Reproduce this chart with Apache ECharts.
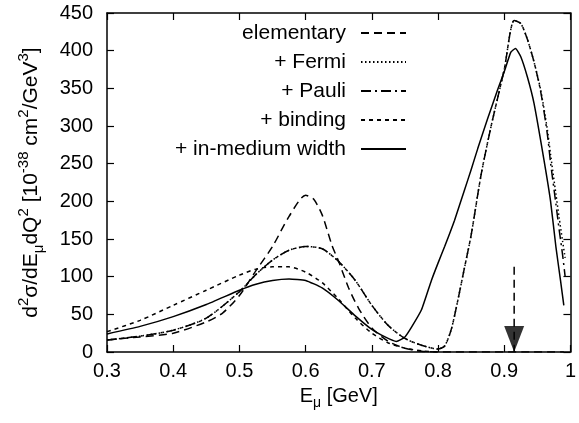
<!DOCTYPE html>
<html><head><meta charset="utf-8">
<script src="https://cdn.jsdelivr.net/npm/echarts@6/dist/echarts.min.js"></script>
<style>html,body{margin:0;padding:0;background:#fff}#c{width:579px;height:423px}</style>
</head><body><div id="c"></div>
<script>
// Series names (legend)
const names = ['elementary', '+ Fermi', '+ Pauli', '+ binding', '+ in-medium width'];
// axis ticks
const xTicks = {min: 0.3, max: 1.0, step: 0.1};
const yTicks = {min: 0, max: 450, step: 50};

// elementary (dashed)
const elemX = [0.30,0.35,0.40,0.45,0.475,0.50,0.525,0.55,0.575,0.60,0.612,0.625,0.64,0.65,0.665,0.68,0.70,0.725,0.75,0.775,0.80,0.99];
const elemY = [16,20,25,40,52,75,108,140,180,208,203,182,141,120,85,58,32,14,5,1,0,0];
// elementary quasielastic delta peak (arrow)
const arrowX = [0.915,0.915];
const arrowY = [113,0];

// + Pauli (dash-dot)
const pauliX = [0.30,0.35,0.40,0.45,0.50,0.525,0.55,0.575,0.60,0.625,0.65,0.675,0.70,0.725,0.75,0.775,0.80,0.81,0.82,0.83,0.84,0.85,0.865,0.88,0.90,0.915,0.925,0.935,0.945,0.955,0.965,0.97,0.978,0.983,0.988,0.992];
const pauliY = [16,21,29,45,80,103,122,135,140,137,120,95,62,35,18,9,4,8,30,69,112,155,235,299,375,440,436,415,385,346,290,251,197,162,130,100];

// + Fermi (dotted)
const fermiX = [0.30,0.35,0.40,0.45,0.50,0.525,0.55,0.575,0.60,0.625,0.65,0.675,0.70,0.725,0.75,0.775,0.80,0.81,0.82,0.83,0.84,0.85,0.865,0.88,0.90,0.915,0.925,0.935,0.945,0.955,0.965,0.97,0.978,0.983,0.988,0.992];
const fermiY = [16,21,29,45,80,103,122,135,140,137,120,95,62,35,18,9,4,8,30,69,112,155,235,299,375,440,436,415,385,348,296,262,210,178,148,125];

// + binding (short dashes)
const bindX = [0.30,0.35,0.40,0.45,0.50,0.525,0.55,0.575,0.60,0.625,0.65,0.675,0.70,0.725,0.75,0.775,0.80];
const bindY = [27,42,62,82,102,110,113,113,106,92,70,45,25,12,5,1.5,0];

// + in-medium width (solid)
const medX = [0.30,0.35,0.40,0.45,0.50,0.525,0.55,0.575,0.60,0.625,0.65,0.675,0.70,0.72,0.737,0.75,0.76,0.775,0.79,0.80,0.81,0.825,0.84,0.85,0.86,0.875,0.89,0.90,0.91,0.917,0.925,0.935,0.945,0.96,0.97,0.978,0.985,0.99];
const medY = [24,34,47,63,82,90,95,97,95,85,68,48,30,20,14,20,33,56,95,118,140,175,215,242,270,310,348,372,398,403,392,365,330,255,200,140,95,62];

const zip = (xs, ys) => xs.map((x, i) => [x, ys[i]]);
const FONT = 'Liberation Sans, Arial, sans-serif';

function lineSeries(name, xs, ys, type, extra) {
  return Object.assign({
    name: name, type: 'line', data: zip(xs, ys), showSymbol: false, symbol: 'none',
    smooth: 0.25, clip: true,
    lineStyle: {color: '#000', width: 1.5, type: type},
    itemStyle: {color: '#000'}, z: 3
  }, extra || {});
}

const chart = echarts.init(document.getElementById('c'), null, {renderer: 'canvas'});
const axisCommon = {
  axisLine: {show: true, onZero: false, lineStyle: {color: '#000', width: 1.5}},
  axisTick: {show: true, inside: true, length: 7, lineStyle: {color: '#000', width: 1.2}},
  splitLine: {show: false}
};
chart.setOption({
  animation: false,
  backgroundColor: '#fff',
  grid: {left: 107, right: 6, top: 13, bottom: 71, containLabel: false},
  legend: {
    data: names, orient: 'vertical', align: 'right',
    right: 172, top: 22, padding: 0,
    itemWidth: 45, itemHeight: 14, itemGap: 7,
    itemStyle: {opacity: 0},
    textStyle: {fontFamily: FONT, fontSize: 21, color: '#000', padding: [0, 10, 0, 0], lineHeight: 22},
    inactiveColor: '#000', selectedMode: false
  },
  xAxis: [
    Object.assign({}, axisCommon, {
      type: 'value', min: xTicks.min, max: xTicks.max, interval: xTicks.step, position: 'bottom',
      axisLabel: {color: '#000', fontFamily: FONT, fontSize: 20, margin: 9},
      name: '{a|E}{s|μ}{a| [GeV]}', nameLocation: 'middle', nameGap: 30,
      nameTextStyle: {rich: {
        a: {fontFamily: FONT, fontSize: 20, color: '#000', lineHeight: 28, verticalAlign: 'middle'},
        s: {fontFamily: FONT, fontSize: 14, color: '#000', lineHeight: 14, verticalAlign: 'bottom'}
      }}
    }),
    Object.assign({}, axisCommon, {
      type: 'value', min: xTicks.min, max: xTicks.max, interval: xTicks.step, position: 'top',
      axisLabel: {show: false}
    })
  ],
  yAxis: [
    Object.assign({}, axisCommon, {
      type: 'value', min: yTicks.min, max: yTicks.max, interval: yTicks.step, position: 'left',
      axisLabel: {color: '#000', fontFamily: FONT, fontSize: 20, margin: 14},
      name: '{a|d}{p|2}{a|σ/dE}{s|μ}{a|dQ}{p|2}{a| [10}{p|-38}{a| cm}{p|2}{a|/GeV}{p|3}{a|]}',
      nameLocation: 'middle', nameGap: 61, nameRotate: 90,
      nameTextStyle: {rich: {
        a: {fontFamily: FONT, fontSize: 21, color: '#000', lineHeight: 30, verticalAlign: 'middle'},
        p: {fontFamily: FONT, fontSize: 15, color: '#000', lineHeight: 15, verticalAlign: 'top'},
        s: {fontFamily: FONT, fontSize: 15, color: '#000', lineHeight: 15, verticalAlign: 'bottom'}
      }}
    }),
    Object.assign({}, axisCommon, {
      type: 'value', min: yTicks.min, max: yTicks.max, interval: yTicks.step, position: 'right',
      axisLabel: {show: false}
    })
  ],
  series: [
    lineSeries(names[0], elemX, elemY, [8, 5]),
    lineSeries(names[1], fermiX, fermiY, [1.5, 2.5]),
    lineSeries(names[2], pauliX, pauliY, [10, 4, 2, 4]),
    lineSeries(names[3], bindX, bindY, [4, 4]),
    lineSeries(names[4], medX, medY, 'solid', {smooth: 0.15}),
    lineSeries('arrow', arrowX, arrowY, [8, 5], {smooth: false}),
    {
      name: 'arrowhead', type: 'scatter', data: [[arrowX[1], arrowY[1]]],
      symbol: 'triangle', symbolRotate: 180, symbolSize: [20, 26], symbolOffset: [0, -13],
      itemStyle: {color: '#000'}, z: 4, silent: true
    }
  ]
});
</script></body></html>
